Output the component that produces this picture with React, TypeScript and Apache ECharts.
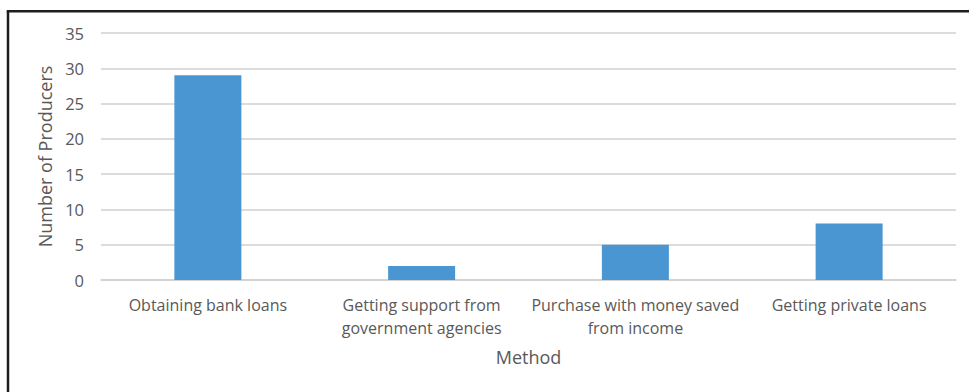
import React, { useEffect, useRef } from "react";
import * as echarts from "echarts";

const categories = [
  "Obtaining bank loans",
  "Getting support from\ngovernment agencies",
  "Purchase with money saved\nfrom income",
  "Getting private loans",
];
const producers = [29, 2, 5, 8];
const yTicks = { min: 0, max: 35, interval: 5 };
const yTitle = "Number of Producers";
const xTitle = "Method";

export default function App() {
  const ref = useRef<HTMLDivElement>(null);
  useEffect(() => {
    if (!ref.current) return;
    const chart = echarts.init(ref.current, null, { renderer: "svg" });
    const font = "'Open Sans', 'Noto Sans', sans-serif";
    chart.setOption({
      animation: false,
      backgroundColor: "#ffffff",
      textStyle: { fontFamily: font },
      grid: { left: 101, right: 13, top: 33, bottom: 112, containLabel: false },
      xAxis: {
        type: "category",
        data: categories,
        name: xTitle,
        nameLocation: "middle",
        nameGap: 68,
        nameTextStyle: { color: "#595959", fontSize: 18, fontFamily: font, lineHeight: 18 },
        axisLine: { show: true, lineStyle: { color: "#d0d0d0", width: 1.5 } },
        axisTick: { show: false },
        axisLabel: {
          color: "#595959",
          fontSize: 16,
          fontFamily: font,
          lineHeight: 23,
          margin: 13,
          interval: 0,
        },
      },
      yAxis: {
        type: "value",
        min: yTicks.min,
        max: yTicks.max,
        interval: yTicks.interval,
        name: yTitle,
        nameLocation: "middle",
        nameGap: 45,
        nameTextStyle: { color: "#595959", fontSize: 18, fontFamily: font, lineHeight: 18 },
        axisLine: { show: false },
        axisTick: { show: false },
        axisLabel: { color: "#595959", fontSize: 16.5, fontFamily: font, margin: 17 },
        splitLine: { show: true, lineStyle: { color: "#d0d0d0", width: 1.5 } },
      },
      series: [
        {
          type: "bar",
          data: producers,
          barWidth: 67,
          itemStyle: { color: "#4a96d2" },
        },
      ],
      graphic: [
        {
          type: "line",
          shape: { x1: 8, y1: 11, x2: 8, y2: 392 },
          style: { stroke: "#1e1e1e", lineWidth: 2.5 },
        },
        {
          type: "line",
          shape: { x1: 6.75, y1: 11.3, x2: 969, y2: 11.3 },
          style: { stroke: "#1e1e1e", lineWidth: 2.5 },
        },
      ],
    });
    return () => chart.dispose();
  }, []);
  return (
    <div
      ref={ref}
      style={{ position: "fixed", left: 0, top: 0, width: 969, height: 392 }}
    />
  );
}
